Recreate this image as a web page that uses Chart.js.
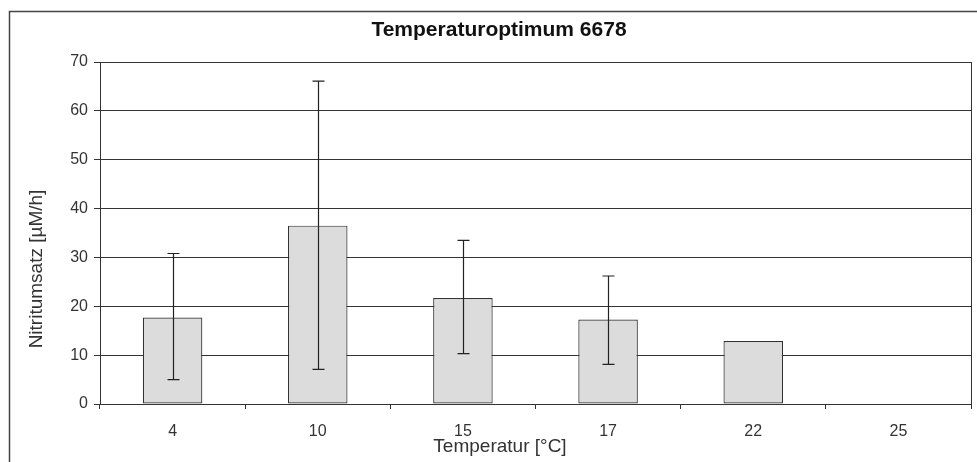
<!DOCTYPE html>
<html>
<head>
<meta charset="utf-8">
<script src="https://cdn.jsdelivr.net/npm/chart.js@4"></script>
<style>
  html, body { margin: 0; padding: 0; background: #fff; }
  #wrap { width: 977px; height: 462px; position: relative; }
</style>
</head>
<body>
<div id="wrap"><canvas id="chart"></canvas></div>
<script>
// data
const temps = ['4', '10', '15', '17', '22', '25']
const rates = [17.7, 36.5, 21.7, 17.3, 12.9, null]
const errHigh = [30.8, 66.1, 33.5, 26.2, null, null]
const errLow = [5.0, 7.1, 10.3, 8.1, null, null]

const titleText = 'Temperaturoptimum 6678'
const xTitle = 'Temperatur [°C]'
const yTitle = 'Nitritumsatz [µM/h]'

const FONT = '"Liberation Sans", Arial, sans-serif'
const lineCol = '#333'

// frame, texts and plot border
const decorations = {
  id: 'decorations',
  beforeDraw(chart) {
    const ctx = chart.ctx
    ctx.save()
    ctx.fillStyle = '#fff'
    ctx.fillRect(0, 0, chart.width, chart.height)
    ctx.strokeStyle = '#444'
    ctx.lineWidth = 1.5
    ctx.strokeRect(9.5, 11.5, 1000, 500)
    ctx.restore()
  },
  afterDraw(chart) {
    const ctx = chart.ctx
    const area = chart.chartArea
    ctx.save()
    ctx.strokeStyle = lineCol
    ctx.lineWidth = 1
    ctx.beginPath()
    ctx.moveTo(Math.round(area.right) + 0.5, area.top)
    ctx.lineTo(Math.round(area.right) + 0.5, area.bottom)
    ctx.stroke()

    ctx.textAlign = 'center'
    ctx.textBaseline = 'middle'
    ctx.fillStyle = '#111'
    ctx.font = 'bold 21px ' + FONT
    ctx.fillText(titleText, 499, 30)

    ctx.fillStyle = '#333'
    ctx.font = '19px ' + FONT
    ctx.fillText(xTitle, 500, 447)

    ctx.translate(37, 269)
    ctx.rotate(-Math.PI / 2)
    ctx.fillText(yTitle, 0, 0)
    ctx.restore()
  }
}

// error bars on top of the bars
const errorBars = {
  id: 'errorBars',
  afterDatasetsDraw(chart) {
    const ctx = chart.ctx
    const y = chart.scales.y
    const meta = chart.getDatasetMeta(0)
    ctx.save()
    ctx.strokeStyle = '#222'
    ctx.lineWidth = 1.2
    meta.data.forEach((bar, i) => {
      if (errHigh[i] == null) return
      const x = Math.round(bar.x) + 0.5
      const top = y.getPixelForValue(errHigh[i])
      const bottom = y.getPixelForValue(errLow[i])
      ctx.beginPath()
      ctx.moveTo(x, top)
      ctx.lineTo(x, bottom)
      ctx.moveTo(x - 6, top)
      ctx.lineTo(x + 6, top)
      ctx.moveTo(x - 6, bottom)
      ctx.lineTo(x + 6, bottom)
      ctx.stroke()
    })
    ctx.restore()
  }
}

new Chart(document.getElementById('chart'), {
  type: 'bar',
  data: {
    labels: temps,
    datasets: [{
      data: rates,
      backgroundColor: '#dcdcdc',
      borderColor: '#333',
      borderWidth: 1.2,
      borderSkipped: false,
      categoryPercentage: 1,
      barPercentage: 0.41
    }]
  },
  options: {
    responsive: true,
    maintainAspectRatio: false,
    animation: false,
    layout: { padding: { top: 62, right: 6, left: 0, bottom: 0 } },
    plugins: {
      legend: { display: false },
      title: { display: false },
      tooltip: { enabled: false }
    },
    scales: {
      x: {
        afterFit(scale) { scale.height = 58 },
        grid: { offset: true, drawOnChartArea: false, tickLength: 5, color: lineCol },
        border: { color: lineCol },
        ticks: { color: '#333', font: { family: FONT, size: 16 }, padding: 13 }
      },
      y: {
        min: 0,
        max: 70,
        afterFit(scale) { scale.width = 100 },
        grid: { color: lineCol, tickLength: 6 },
        border: { color: lineCol },
        ticks: { stepSize: 10, color: '#333', font: { family: FONT, size: 16 }, padding: 6 }
      }
    }
  },
  plugins: [decorations, errorBars]
})
</script>
</body>
</html>
